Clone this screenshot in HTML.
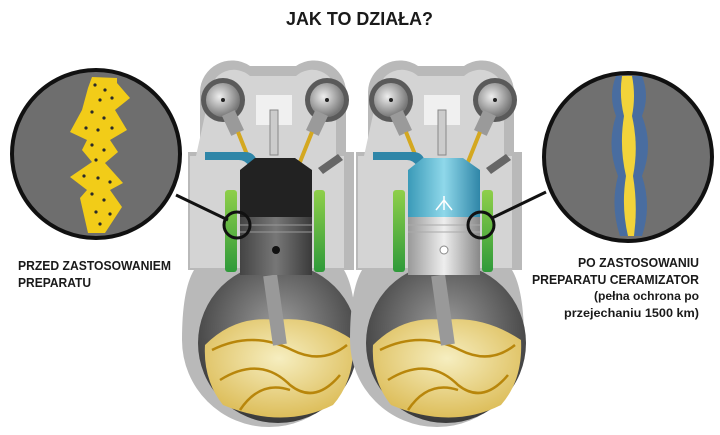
<!DOCTYPE html>
<html><head><meta charset="utf-8"><style>
html,body{margin:0;padding:0;background:#fff;}
svg{display:block;}
text{font-family:"Liberation Sans Narrow","Liberation Sans",sans-serif;font-weight:bold;fill:#1a1a1a;}
</style></head><body>
<svg width="720" height="435" viewBox="0 0 720 435" xmlns="http://www.w3.org/2000/svg">
<defs>
<radialGradient id="crank" cx="0.5" cy="0.4" r="0.6"><stop offset="0" stop-color="#9a9a9a"/><stop offset="1" stop-color="#3a3a3a"/></radialGradient>
<linearGradient id="green" x1="0" y1="0" x2="0" y2="1"><stop offset="0" stop-color="#8fcf4a"/><stop offset="1" stop-color="#2f9a3a"/></linearGradient>
<linearGradient id="blue" x1="0" y1="0" x2="1" y2="0"><stop offset="0" stop-color="#3a9ab8"/><stop offset="0.5" stop-color="#8fd8ea"/><stop offset="1" stop-color="#2f86a8"/></linearGradient>
<linearGradient id="pist" x1="0" y1="0" x2="1" y2="0"><stop offset="0" stop-color="#999"/><stop offset="0.5" stop-color="#eee"/><stop offset="1" stop-color="#888"/></linearGradient>
<linearGradient id="pistd" x1="0" y1="0" x2="1" y2="0"><stop offset="0" stop-color="#444"/><stop offset="0.5" stop-color="#777"/><stop offset="1" stop-color="#3a3a3a"/></linearGradient>
<radialGradient id="oil" cx="0.5" cy="0.4" r="0.7"><stop offset="0" stop-color="#f6eec0"/><stop offset="1" stop-color="#d9b64a"/></radialGradient>
<radialGradient id="rock" cx="0.4" cy="0.4" r="0.6"><stop offset="0" stop-color="#eee"/><stop offset="1" stop-color="#777"/></radialGradient>
<g id="engine">
  <path d="M200 92 a32 32 0 0 1 50 -26 h46 a32 32 0 0 1 50 26 v60 h8 v118 h-10 q12 20 12 70 a87 87 0 0 1 -174 0 q0 -50 12 -70 h-6 v-118 h12 z" fill="#b9b9b9"/>
  <path d="M210 92 a24 24 0 0 1 40 -16 h46 a24 24 0 0 1 40 16 v64 h8 v112 h-154 v-112 h6 z" fill="#d4d4d4"/>
  <rect x="256" y="95" width="36" height="30" fill="#f0f0f0"/>
  <circle cx="223" cy="100" r="22" fill="#5a5a5a"/><circle cx="223" cy="100" r="17" fill="url(#rock)"/>
  <circle cx="327" cy="100" r="22" fill="#5a5a5a"/><circle cx="327" cy="100" r="17" fill="url(#rock)"/>
  <circle cx="223" cy="100" r="2" fill="#222"/><circle cx="327" cy="100" r="2" fill="#222"/>
  <rect x="226" y="112" width="14" height="22" fill="#9a9a9a" transform="rotate(-25 233 123)"/>
  <rect x="310" y="112" width="14" height="22" fill="#9a9a9a" transform="rotate(25 317 123)"/>
  <line x1="238" y1="132" x2="250" y2="162" stroke="#d4a820" stroke-width="4"/>
  <line x1="312" y1="132" x2="300" y2="162" stroke="#d4a820" stroke-width="4"/>
  <rect x="270" y="110" width="8" height="45" fill="#ccc" stroke="#888" stroke-width="1"/>
  <path d="M205 152 h40 q10 0 12 10 l-8 4 q-4 -6 -10 -6 h-34 z" fill="#2f86a8"/>
  <path d="M318 168 l20 -14 l5 6 l-20 14 z" fill="#666"/>
  <rect x="225" y="190" width="12" height="82" rx="3" fill="url(#green)"/>
  <rect x="314" y="190" width="11" height="82" rx="3" fill="url(#green)"/>
  <circle cx="278" cy="343" r="80" fill="url(#crank)"/>
  <path d="M205 345 q30 -30 70 -25 q40 -5 78 20 q2 40 -20 65 q-50 25 -110 0 q-20 -25 -18 -60z" fill="url(#oil)"/>
  <path d="M212 350 q40 -20 80 0 q30 15 55 -5 M220 380 q40 -25 70 5 q25 20 50 -10 M240 410 q20 -30 50 -20" stroke="#b8860b" stroke-width="2.5" fill="none"/>
  <rect x="268" y="275" width="14" height="70" fill="#999" transform="rotate(-8 275 310)"/>
</g>
</defs>

<text x="286" y="25" font-size="18" textLength="147" lengthAdjust="spacingAndGlyphs">JAK TO DZIAŁA?</text>

<use href="#engine"/>
<path d="M240 170 l15 -12 h40 l17 12 v47 h-72z" fill="#222"/>
<rect x="240" y="217" width="72" height="58" fill="url(#pistd)"/>
<line x1="240" y1="225" x2="312" y2="225" stroke="#999"/>
<line x1="240" y1="232" x2="312" y2="232" stroke="#999"/>
<circle cx="276" cy="250" r="4" fill="#111"/>

<use href="#engine" x="168"/>
<path d="M408 170 l15 -12 h40 l17 12 v47 h-72z" fill="url(#blue)"/>
<rect x="408" y="217" width="72" height="58" fill="url(#pist)"/>
<line x1="408" y1="225" x2="480" y2="225" stroke="#aaa"/>
<line x1="408" y1="232" x2="480" y2="232" stroke="#aaa"/>
<circle cx="444" cy="250" r="4" fill="#fff" stroke="#888"/>
<path d="M444 200 l-8 10 M444 200 l8 10 M444 210 l0 -14" stroke="#fff" stroke-width="1.5"/>

<line x1="176" y1="195" x2="228" y2="220" stroke="#111" stroke-width="3"/>
<circle cx="237" cy="225" r="13" fill="none" stroke="#111" stroke-width="3"/>
<line x1="546" y1="192" x2="492" y2="218" stroke="#111" stroke-width="3"/>
<circle cx="481" cy="225" r="13" fill="none" stroke="#111" stroke-width="3"/>

<circle cx="96" cy="154" r="84" fill="#6e6e6e" stroke="#111" stroke-width="4"/>
<polygon fill="#f2cc18" points="92,77 88,88 82,110 70,132 87,140 82,150 92,162 70,177 87,190 80,198 88,233 105,233 122,207 110,190 123,183 105,163 118,152 110,140 127,130 115,110 130,98 117,83 117,78" />
<g fill="#2a2a2a">
<circle cx="95" cy="85" r="1.6"/><circle cx="105" cy="90" r="1.6"/><circle cx="100" cy="100" r="1.6"/><circle cx="112" cy="98" r="1.6"/><circle cx="92" cy="112" r="1.6"/><circle cx="104" cy="118" r="1.6"/><circle cx="86" cy="128" r="1.6"/><circle cx="98" cy="130" r="1.6"/><circle cx="112" cy="128" r="1.6"/><circle cx="92" cy="145" r="1.6"/><circle cx="104" cy="150" r="1.6"/><circle cx="96" cy="160" r="1.6"/><circle cx="84" cy="176" r="1.6"/><circle cx="98" cy="178" r="1.6"/><circle cx="110" cy="182" r="1.6"/><circle cx="92" cy="194" r="1.6"/><circle cx="104" cy="200" r="1.6"/><circle cx="96" cy="212" r="1.6"/><circle cx="110" cy="214" r="1.6"/><circle cx="100" cy="224" r="1.6"/>
</g>

<circle cx="628" cy="157" r="84" fill="#707070" stroke="#111" stroke-width="4"/>
<path d="M616 76 q-8 20 0 40 q-10 30 2 60 q-8 30 2 60 h22 q10 -30 0 -60 q12 -30 0 -60 q8 -20 0 -40z" fill="#2f6bbf" opacity="0.6"/>
<path d="M622 76 q-3 20 2 40 q-5 30 2 60 q-5 30 2 60 h6 q4 -30 -1 -60 q6 -30 -1 -60 q4 -20 0 -40z" fill="#f2d33a"/>

<text x="18" y="270" font-size="13" textLength="153" lengthAdjust="spacingAndGlyphs">PRZED ZASTOSOWANIEM</text>
<text x="18" y="287" font-size="13" textLength="73" lengthAdjust="spacingAndGlyphs">PREPARATU</text>
<text x="578" y="267" font-size="13" textLength="121" lengthAdjust="spacingAndGlyphs">PO ZASTOSOWANIU</text>
<text x="532" y="284" font-size="13" textLength="167" lengthAdjust="spacingAndGlyphs">PREPARATU CERAMIZATOR</text>
<text x="594" y="300" font-size="12" textLength="105" lengthAdjust="spacingAndGlyphs">(pełna ochrona po</text>
<text x="564" y="317" font-size="12" textLength="135" lengthAdjust="spacingAndGlyphs">przejechaniu 1500 km)</text>
</svg>
</body></html>
